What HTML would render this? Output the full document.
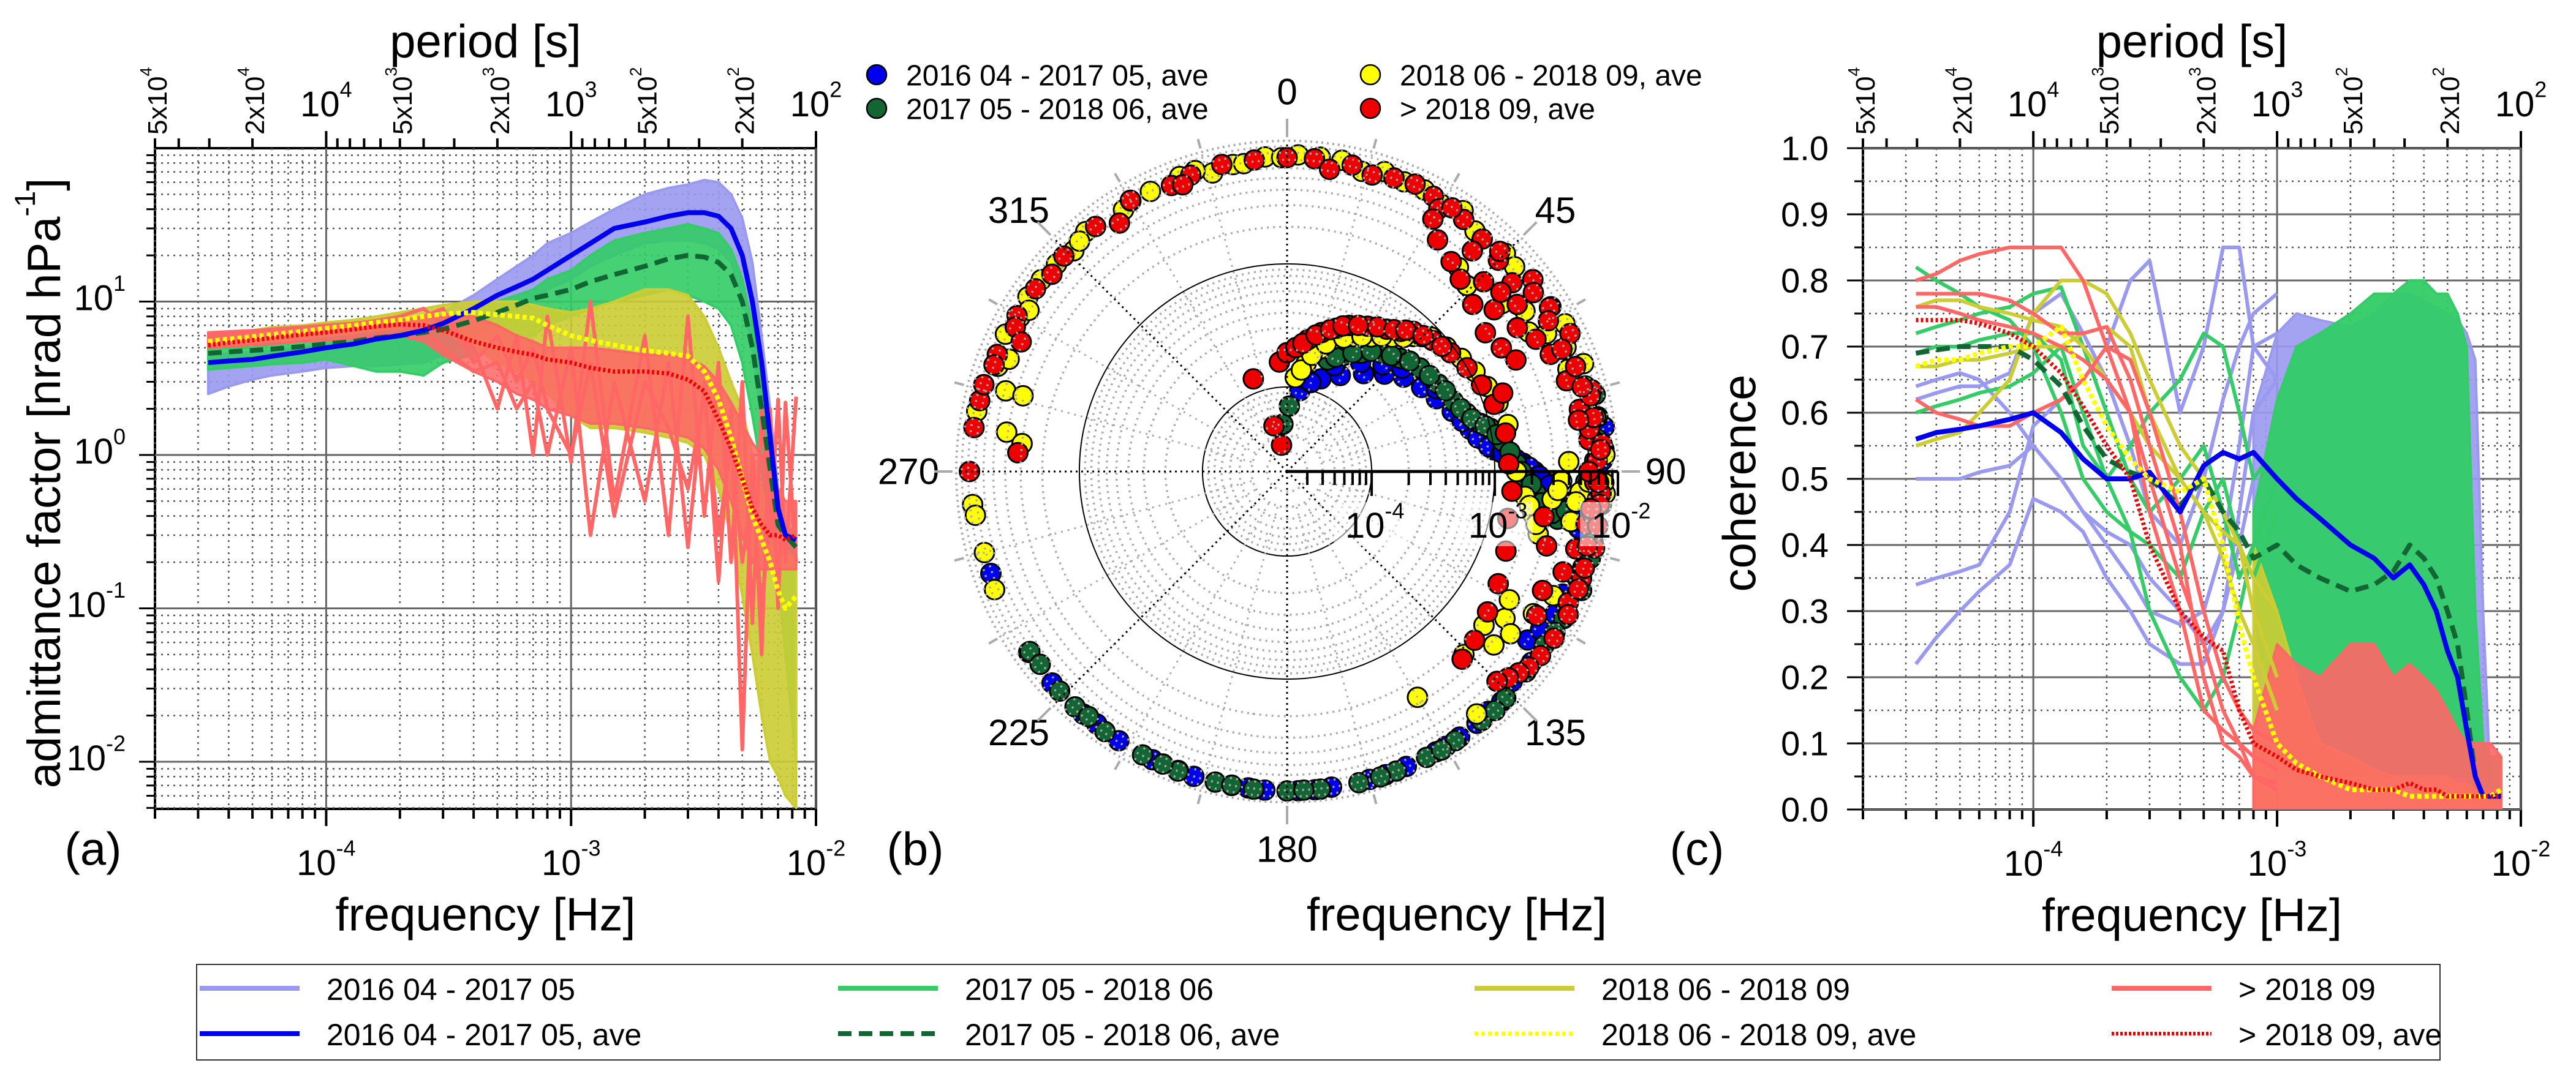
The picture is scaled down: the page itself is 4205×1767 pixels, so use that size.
<!DOCTYPE html>
<html><head><meta charset="utf-8"><title>Admittance, phase and coherence</title>
<style>
html,body{margin:0;padding:0;background:#fff;}
svg{display:block;font-family:"Liberation Sans",Arial,sans-serif;}
</style></head>
<body>
<svg id="chart" xmlns="http://www.w3.org/2000/svg" width="4205" height="1767" viewBox="0 0 4205 1767">
<defs>
<clipPath id="clipA"><rect x="253" y="242" width="1079" height="1079"/></clipPath>
<clipPath id="clipC"><rect x="3041" y="242" width="1074" height="1080"/></clipPath>
</defs>
</svg>
<script>
// ---------- data: shared frequency grid [Hz] ----------
const F = [3.3e-5,4e-5,5e-5,6e-5,8e-5,1e-4,1.3e-4,1.6e-4,2e-4,2.5e-4,3e-4,4e-4,5e-4,6e-4,7e-4,8e-4,1e-3,1.2e-3,1.5e-3,2e-3,2.5e-3,3e-3,3.5e-3,4e-3,4.5e-3,5e-3,5.5e-3,6e-3,6.5e-3,7e-3,7.5e-3,8.3e-3];
// ---------- panel (a): admittance factor [nrad/hPa] ----------
const aBlueAve   = [4.0,4.1,4.2,4.4,4.7,5.0,5.3,5.7,6.0,6.5,7.2,9,11,12.5,14,16,20,24,30,33,36,38,38,36,30,20,10,4,1.3,0.45,0.3,0.28];
const aGreenAve  = [4.6,4.7,4.8,4.9,5.1,5.3,5.5,5.8,6.0,6.3,6.6,7.5,8.5,9.5,10.5,11,12,13.5,15,17,19,20,19.5,18,15,10,5,2,0.8,0.35,0.3,0.25];
const aYellowAve = [5.5,5.7,5.9,6.1,6.4,6.7,7,7.3,7.6,8,8.3,8.5,8.2,8,7.8,7,6,5.6,5.2,4.8,4.6,4.4,3.5,2.3,1.3,0.7,0.4,0.28,0.2,0.13,0.1,0.12];
const aRedAve    = [5.2,5.4,5.6,5.8,6.1,6.3,6.6,6.9,7.1,7.0,6.5,5.5,5.0,4.7,4.5,4.2,4.0,3.7,3.5,3.5,3.4,3.1,2.6,1.7,1.1,0.7,0.45,0.35,0.3,0.3,0.28,0.3];
const aBlueHi  = [4.5,4.6,4.7,4.8,5.0,5.3,5.7,6.2,6.8,7.5,8.5,11,14,17,20,24,28,33,40,50,55,58,62,60,50,35,18,6,2,0.6,0.35,0.3];
const aBlueLo  = [2.5,2.8,3.1,3.3,3.5,3.7,3.8,3.8,3.9,4.0,4.5,6,8,9,10,12,14,17,20,24,25,25,24,22,18,11,5,1.8,0.6,0.3,0.25,0.22];
const aGreenHi = [5,5,5,5.3,5.6,6,6.3,6.6,7,7.5,8,9,10,11,12,14,16,20,25,28,30,32,30,28,22,14,7,3,1.2,0.5,0.35,0.3];
const aGreenLo = [3.6,3.7,3.8,3.9,4,4.2,3.8,3.5,3.5,3.3,4,4.5,5,5.5,6,7,8,9,10,11,12,11,10,9,7,4,1.8,0.8,0.3,0.15,0.05,0.01];
const aOliveHi = [6,6.2,6.5,6.8,7,7.3,7.6,8,8.5,9,9.5,10,10,10,9.5,9,8.5,9,10,12,12,11,8,5,3,2,1,0.6,0.4,0.3,0.25,0.2];
const aOliveLo = [5,5.1,5.3,5.5,5.7,6,6.2,6.5,6.7,7,6.5,5,4,3.5,3,2.5,1.8,1.5,1.5,1.4,1.3,1.2,1,0.6,0.3,0.12,0.05,0.02,0.01,0.008,0.006,0.005];
const aRedHi   = [6.3,6.4,6.5,6.6,6.8,7,7.2,7.4,7.6,7.8,8,8,7,6,5.5,5,5,5,4.8,4.5,4.5,4.2,3.8,3,2.2,1.6,1.2,1.0,0.8,0.6,0.5,0.5];
const aRedLo   = [5,5.1,5.2,5.3,5.5,5.6,5.7,6,6,5.5,4.5,3.5,3,2.5,2.3,2,1.8,1.6,1.6,1.5,1.4,1.3,1.1,0.8,0.5,0.3,0.2,0.18,0.18,0.18,0.18,0.18];
const aRedSpike1 = [6,6,6,6.2,6.5,6.8,7,7.3,7,6.5,5,3.5,4,2,3,1,5,0.3,3,0.5,4,0.25,3,0.15,2,0.012,1,0.05,2,0.1,2.2,0.2];
const aRedSpike2 = [6.2,6.3,6.4,6.6,6.8,7,7.2,7.5,8,9,7,5,2,6,1,8,0.9,10,0.5,6,0.3,8,0.4,4,0.2,3,0.08,2,0.3,2.3,0.2,2.4];
const aRedSpike3 = [5.6,5.7,5.8,6,6.2,6.4,6.6,6.8,7.2,8,9,4,6,3,5,2,1,4,0.4,3,1.5,0.6,2.5,0.3,1.2,0.2,0.6,0.1,0.4,0.2,0.3,0.3];
// ---------- panel (c): coherence ----------
const cBlueAve   = [.56,.57,.575,.58,.59,.6,.57,.53,.5,.5,.51,.45,.52,.54,.53,.54,.5,.47,.44,.40,.38,.35,.37,.34,.3,.24,.2,.12,.05,.02,.02,.02];
const cGreenAve  = [.69,.695,.7,.7,.7,.68,.64,.58,.53,.51,.5,.46,.5,.45,.42,.38,.4,.37,.35,.33,.34,.36,.4,.38,.35,.3,.25,.15,.05,.02,.02,.02];
const cYellowAve = [.67,.68,.68,.69,.7,.7,.73,.65,.58,.53,.5,.48,.5,.4,.28,.2,.1,.07,.05,.03,.03,.03,.02,.02,.02,.02,.02,.02,.02,.02,.02,.03];
const cRedAve    = [.74,.74,.74,.735,.72,.7,.66,.61,.55,.5,.4,.3,.26,.24,.15,.1,.08,.06,.05,.04,.03,.03,.04,.03,.03,.02,.02,.02,.02,.02,.02,.02];
const cBlueLines = [
 [.22,.26,.3,.33,.37,.47,.45,.42,.35,.3,.25,.22,.22,.3,.4,.5,.55],
 [.34,.35,.36,.37,.45,.58,.62,.65,.7,.8,.83,.6,.7,.85,.85,.7,.65],
 [.5,.5,.5,.51,.52,.55,.5,.45,.4,.35,.3,.28,.3,.4,.55,.7,.72],
 [.62,.63,.64,.64,.66,.75,.78,.72,.65,.55,.45,.4,.5,.62,.7,.75,.78],
 [.64,.65,.66,.65,.6,.55,.5,.45,.42,.4,.35,.3,.25,.3,.45,.6,.65]];
const cGreenLines = [
 [.82,.8,.78,.76,.74,.7,.6,.5,.45,.42,.3,.2,.15,.2,.3,.4,.5],
 [.69,.7,.7,.71,.72,.72,.68,.55,.5,.55,.6,.65,.72,.7,.6,.5,.55],
 [.6,.61,.62,.63,.64,.66,.7,.6,.5,.42,.4,.35,.45,.5,.4,.35,.45],
 [.72,.73,.74,.75,.76,.78,.79,.7,.6,.5,.45,.5,.55,.45,.35,.4,.5]];
const cOliveLines = [
 [.55,.56,.57,.6,.65,.75,.8,.8,.78,.72,.65,.55,.5,.45,.4,.35,.3],
 [.76,.77,.77,.76,.75,.74,.73,.7,.65,.6,.55,.5,.45,.42,.4,.3,.2],
 [.67,.67,.68,.68,.69,.7,.7,.72,.73,.7,.6,.5,.45,.38,.3,.25,.15]];
const cRedLines = [
 [.8,.81,.83,.84,.85,.85,.85,.8,.7,.6,.45,.3,.15,.12,.1,.05,.03],
 [.78,.78,.78,.78,.77,.75,.72,.72,.73,.65,.55,.4,.2,.1,.08,.05,.04],
 [.62,.6,.59,.58,.58,.6,.62,.65,.7,.68,.6,.45,.3,.2,.15,.12,.1],
 [.76,.76,.75,.74,.73,.72,.7,.68,.65,.6,.5,.35,.25,.15,.1,.08,.06]];
// high-frequency envelopes (frequencies index 15..31)
const cGreenHi = [.45,.62,.7,.72,.75,.78,.78,.8,.8,.78,.78,.75,.7,.3,.1,.08,.08];
const cGreenLo = [.3,.1,.05,.05,.05,.05,.05,.05,.05,.05,.05,.05,.05,.02,.01,.01,.01];
const cBlueHi  = [.6,.72,.75,.74,.73,.75,.78,.78,.77,.76,.75,.74,.72,.68,.3,.04,.03];
const cBlueLo  = [.1,.05,.05,.04,.04,.04,.04,.04,.04,.04,.04,.03,.02,.01,0,0,0];
const cRedHi   = [.12,.25,.22,.2,.25,.25,.2,.22,.2,.18,.15,.12,.1,.1,.1,.1,.08];
const cRedLo   = [0,0,0,0,0,0,0,0,0,0,0,0,0,0,0,0,0];
const cOliveHi = [.4,.3,.2,.1,.08,.06,.05,.05,.05,.05,.05,.04,.04,.03,.03,.03,.03];
const cOliveLo = [0,0,0,0,0,0,0,0,0,0,0,0,0,0,0,0,0];
// ---------- panel (b): polar (frequency, phase in degrees) ----------
const pBlueF = [9.5e-5,1.3e-4,1.6e-4,2.1e-4,2.7e-4,3.4e-4,4.0e-4,4.6e-4,5.5e-4,6.9e-4,8.5e-4,1.0e-3,1.3e-3,1.7e-3,2.1e-3,2.5e-3,3.0e-3,3.5e-3,4.2e-3,5.0e-3,5.5e-3,6.0e-3,6.4e-3,7.0e-3,8.2e-3,7.5e-3,6.8e-3,6.5e-3,5.8e-3,5.0e-3,6.5e-3,7.2e-3,7.5e-3,7.7e-3,7.8e-3,7.9e-3,8e-3,8e-3,8.1e-3,8.1e-3,8e-3,8e-3,7.9e-3,7.8e-3,7.7e-3,7.6e-3,7.5e-3,7.2e-3,
  1.15e-4,1.8e-4,2.4e-4,3.0e-4,3.7e-4,5.0e-4,6.2e-4,7.7e-4,9.2e-4,1.15e-3,1.5e-3,1.9e-3,2.3e-3,2.8e-3,3.2e-3,3.8e-3,4.6e-3,5.3e-3,6.2e-3,7.8e-3,7.3e-3,6.9e-3,6.0e-3,5.5e-3,6.8e-3,7.4e-3,7.8e-3,8.0e-3,8.1e-3,8.0e-3,7.9e-3,7.6e-3];
const pBlueP = [9,20,29,38,45,51,58,64,70,77,81,84,86,88,90,92,95,98,96,100,98,102,104,95,82,88,90,110,114,125,133,140,143,147,152,158,165,172,178,184,190,197,205,212,220,228,235,251,
  15,24,34,42,48,61,74,80,83,85,87,89,91,93,96,99,97,101,99,86,92,108,118,122,128,137,150,162,175,187,200,217];
const pGreenF = [5e-5,7e-5,1.9e-4,2.3e-4,2.8e-4,3.5e-4,4.1e-4,4.8e-4,5.4e-4,6e-4,7e-4,8.5e-4,1e-3,1.2e-3,1.5e-3,1.8e-3,2.2e-3,2.8e-3,3.5e-3,4.5e-3,5.5e-3,6.5e-3,7.5e-3,7.8e-3,7e-3,7.5e-3,7.8e-3,7.2e-3,6.8e-3,7e-3,7.4e-3,7.6e-3,7.8e-3,7.9e-3,8e-3,8.1e-3,8.1e-3,8.1e-3,8.1e-3,8e-3,8e-3,7.9e-3,7.8e-3,7.7e-3,7.6e-3,7.3e-3,
  2.1e-4,2.6e-4,3.2e-4,3.8e-4,4.5e-4,5.1e-4,5.7e-4,6.5e-4,7.5e-4,9.2e-4,1.1e-3,1.35e-3,1.65e-3,2e-3,2.5e-3,3.1e-3,4e-3,5e-3,6e-3,7e-3,7.6e-3,7.3e-3,6.6e-3,6.2e-3,7.1e-3,7.7e-3,7.95e-3,8.1e-3,8.05e-3,7.95e-3,7.85e-3,7.5e-3,7.2e-3];
const pGreenP = [355,2,20,26,32,39,45,52,60,67,72,76,78,82,88,92,95,98,100,96,92,88,80,76,100,106,112,118,124,130,136,142,148,154,160,167,174,180,186,193,200,207,215,222,226,235,
  23,29,35,42,48,56,63,70,74,77,80,85,90,93,97,99,98,94,90,84,96,103,110,115,121,139,151,163,177,190,203,219,232];
const pYellowF = [1.2e-4,1.6e-4,2.2e-4,2.8e-4,3.4e-4,4e-4,5e-4,6.5e-4,8.2e-4,1e-3,1.2e-3,1.4e-3,1.5e-3,1.8e-3,2.2e-3,2.6e-3,3e-3,3.5e-3,4e-3,4.5e-3,5e-3,6e-3,7e-3,8e-3,2.4e-3,2.2e-3,2.8e-3,3.2e-3,3.6e-3,4.2e-3,5e-3,2.7e-3,6.5e-3,2.6e-3,3e-3,3.4e-3,3.8e-3,4.4e-3,5e-3,5.5e-3,6.2e-3,6.8e-3,7.4e-3,7e-3,6.6e-3,6.2e-3,6.6e-3,7.2e-3,7.5e-3,7.6e-3,7.7e-3,7.5e-3,7e-3,6.5e-3,7.3e-3,7e-3,6.6e-3,7.2e-3,6.8e-3,6.4e-3,7.1e-3,6.6e-3,7.2e-3,6.5e-3,7.6e-3,7.8e-3,7.6e-3,7.4e-3,7.2e-3,7.5e-3,
  1.4e-4,1.9e-4,2.5e-4,3.1e-4,3.7e-4,4.5e-4,5.7e-4,7.3e-4,9e-4,1.1e-3,1.3e-3,2e-3,2.4e-3,3.3e-3,4.7e-3,5.8e-3,6.4e-3,7.2e-3,7.5e-3,6.9e-3,6.3e-3,7.4e-3,7.1e-3,6.7e-3,7.6e-3,7.3e-3,6.9e-3,7.4e-3,7.1e-3,6.8e-3,7.0e-3,6.1e-3,5.6e-3,4.9e-3,4.1e-3,3.5e-3,3.0e-3,2.5e-3,7.7e-3,7.9e-3,6.3e-3];
const pYellowP = [5,10,15,19,26,32,38,43,47,57,67,78,90,96,100,104,96,92,88,100,94,90,86,94,136,128,124,130,126,120,115,150,142,44,40,52,60,56,62,70,66,74,62,52,45,38,30,26,18,10,2,356,350,346,340,334,328,320,312,316,304,300,296,290,281,270,264,262,255,248,
  8,12,17,23,29,35,41,45,52,62,72,98,102,94,96,92,84,80,70,58,48,34,22,14,6,359,352,343,330,318,308,302,292,286,278,286,276,120,92,87,78];
const pRedF = [3.4e-5,5e-5,1.3e-4,1.6e-4,1.9e-4,2.1e-4,2.5e-4,3e-4,3.5e-4,4e-4,4.6e-4,5.3e-4,6e-4,7e-4,8e-4,9e-4,1e-3,1.1e-3,1.2e-3,1.3e-3,1.3e-3,1.4e-3,1.4e-3,1.6e-3,1.8e-3,2e-3,2.3e-3,2.5e-3,1.5e-3,1.9e-3,2.2e-3,2.6e-3,3e-3,3.6e-3,2.8e-3,3.3e-3,4e-3,4.5e-3,5e-3,5.5e-3,6e-3,6.5e-3,6e-3,5.5e-3,5e-3,4e-3,3.2e-3,2.7e-3,5e-3,5.5e-3,6e-3,6.5e-3,7e-3,7.1e-3,7.2e-3,7.3e-3,7.3e-3,7.2e-3,7.3e-3,7e-3,6.6e-3,7.2e-3,6.9e-3,6.8e-3,6.9e-3,7e-3,6.5e-3,7.1e-3,7.5e-3,3.2e-3,7.6e-3,5.2e-3,6e-3,4.5e-3,4.8e-3,7.5e-3,7.6e-3,7.2e-3,6.8e-3,4.5e-3,7e-3,
  6.2e-3,6.6e-3,7.4e-3,6.9e-3,6.3e-3,7.0e-3,6.7e-3,7.4e-3,6.4e-3,7.1e-3,6.2e-3,6.8e-3,7.4e-3,5.8e-3,6.1e-3,5.7e-3,6.4e-3,6.9e-3,7.3e-3,7.0e-3,6.6e-3,7.7e-3,7.5e-3,7.3e-3,6.2e-3,5.6e-3,6.4e-3,7.0e-3,7.8e-3,7.5e-3,
  2.3e-4,2.8e-4,3.3e-4,3.8e-4,4.3e-4,5e-4,5.7e-4,6.5e-4,7.5e-4,8.5e-4,2.1e-3,2.4e-3,3.4e-3,3.8e-3,4.2e-3,5.2e-3,5.8e-3,6.3e-3,6.7e-3,7.1e-3,7.3e-3,7.5e-3,7.4e-3,7.2e-3,6.9e-3,6.4e-3,5.9e-3,5.3e-3];
const pRedP = [348,344,340,356,0,4,9,14,19,23,29,35,39,42,48,54,60,66,72,80,88,95,102,110,118,125,132,137,70,55,48,42,38,33,52,58,62,66,72,78,84,92,100,105,110,115,106,100,50,45,40,35,28,20,12,5,0,354,348,342,338,330,322,314,306,300,298,292,283,274,278,296,30,40,30,75,85,110,115,120,95,
  8,16,24,32,44,52,58,64,70,76,82,88,94,60,54,66,74,80,86,92,98,104,100,96,340,326,310,290,270,286,
  7,12,17,21,26,32,37,40,45,51,60,64,46,50,54,80,90,97,104,108,112,117,122,126,129,131,133,135];
// ---------- tick label data ----------
const periodLabels = [[5,4],[2,4],[1,4],[5,3],[2,3],[1,3],[5,2],[2,2],[1,2]];
const freqDecades = [-4,-3,-2];
const admitDecades = [1,0,-1,-2];
const cohTicks = [0,0.1,0.2,0.3,0.4,0.5,0.6,0.7,0.8,0.9,1.0];
const polarAngles = [0,45,90,135,180,225,270,315];
const polarDecades = [-4,-3,-2];

// ---------- helpers ----------
const NS='http://www.w3.org/2000/svg';
const svg=document.getElementById('chart');
function mk(tag, attrs, name, parent){
  const el=document.createElementNS(NS,tag);
  for(const k in attrs) el.setAttribute(k, attrs[k]);
  
  
  (parent||svg).appendChild(el);
  return el;
}
function grp(name, attrs){ return mk('g', attrs||{}, name); }
function txt(x,y,s,size,anchor,name,parent,rot){
  const a={x:x,y:y,'font-size':size,'text-anchor':anchor||'middle','dominant-baseline':'central',fill:'#000'};
  if(rot) a.transform='rotate('+rot+' '+x+' '+y+')';
  const t=mk('text',a,name,parent); t.textContent=s; return t;
}
function supTxt(x,y,base,sup,size,anchor,name,parent,rot,tail){
  const a={x:x,y:y,'font-size':size,'text-anchor':anchor||'middle','dominant-baseline':'central',fill:'#000'};
  if(rot) a.transform='rotate('+rot+' '+x+' '+y+')';
  const t=mk('text',a,name,parent);
  const t1=document.createElementNS(NS,'tspan'); t1.textContent=base; t.appendChild(t1);
  const t2=document.createElementNS(NS,'tspan'); t2.textContent=sup;
  t2.setAttribute('font-size', Math.round(size*0.62)); t2.setAttribute('dy', -size*0.42); t.appendChild(t2);
  if(tail){ const t3=document.createElementNS(NS,'tspan'); t3.textContent=tail; t3.setAttribute('dy', size*0.42); t.appendChild(t3); }
  return t;
}
const LF0=Math.log10(2e-5), LF1=-2;
function xOf(f,P){ return P.x0+(Math.log10(f)-LF0)/(LF1-LF0)*(P.x1-P.x0); }
const PA={x0:253,x1:1332,y0:242,y1:1321};
const PC={x0:3041,x1:4115,y0:242,y1:1322};
function yA(v){ return 242+(2-Math.log10(v))*250.5; }
function yC(v){ return 1322-v*1080; }
function pathD(xs,ys){ return xs.map((x,i)=>(i?'L':'M')+x.toFixed(1)+' '+ys[i].toFixed(1)).join(''); }
function lineSeries(P,yf,fr,vals,style,name,parent){
  const xs=fr.map(f=>xOf(f,P)), ys=vals.map(yf);
  return mk('path',Object.assign({d:pathD(xs,ys),fill:'none','stroke-linejoin':'round'},style),name,parent);
}
function band(P,yf,fr,hi,lo,color,name,parent,op){
  const xs=fr.map(f=>xOf(f,P));
  let d=pathD(xs,hi.map(yf));
  for(let i=fr.length-1;i>=0;i--) d+='L'+xs[i].toFixed(1)+' '+yf(lo[i]).toFixed(1);
  d+='Z';
  return mk('path',{d:d,fill:color,'fill-opacity':op||0.9,stroke:color,'stroke-width':4,'stroke-linejoin':'round'},name,parent);
}
const COL={lblue:'#9999f0',blue:'#0000ee',green:'#33cc66',dgreen:'#116633',olive:'#cccc33',yellow:'#ffff00',lred:'#ff6666',red:'#ee0000'};
const freqMinor=[]; for(let d=-5; d<=-3; d++) for(let k=1;k<=9;k++){ const f=k*Math.pow(10,d); if(f>=2e-5-1e-12 && f<=1e-2) freqMinor.push([f,k]); } freqMinor.push([1e-2,1]);

function freqAxes(P,gname){
  const g=grp(gname);
  freqMinor.forEach(([f,k])=>{
    const x=xOf(f,P);
    if(k===1) mk('line',{x1:x,y1:P.y0,x2:x,y2:P.y1,stroke:'#666','stroke-width':3},'major-grid-x',g);
    else mk('line',{x1:x,y1:P.y0,x2:x,y2:P.y1,stroke:'#555','stroke-width':2.5,'stroke-dasharray':'3 7'},'minor-grid-x',g);
    mk('line',{x1:x,y1:P.y1,x2:x,y2:P.y1+(k===1?28:16),stroke:'#000','stroke-width':4},'x-tick',g);
  });
  freqDecades.forEach(d=>{ supTxt(xOf(Math.pow(10,d),P),P.y1+88,'10',String(d),58,'middle','x-tick-label',g); });
  for(let n=2;n<=4;n++) for(let k=1;k<=9;k++){ const T=k*Math.pow(10,n); if(T>5e4) continue; const x=xOf(1/T,P);
    mk('line',{x1:x,y1:P.y0,x2:x,y2:P.y0-(k===1?28:16),stroke:'#000','stroke-width':4},'top-tick',g); }
  { const x=xOf(2e-5,P); mk('line',{x1:x,y1:P.y0,x2:x,y2:P.y0-16,stroke:'#000','stroke-width':4},'top-tick',g); }
  periodLabels.forEach(([k,n])=>{ const x=xOf(1/(k*Math.pow(10,n)),P);
    if(k===1) supTxt(x,P.y0-72,'10',String(n),58,'middle','period-tick-label',g);
    else supTxt(x+4,P.y0-22,k+'x10',String(n),44,'start','period-tick-label',g,-90);
  });
  txt((P.x0+P.x1)/2,P.y1+173,'frequency [Hz]',76,'middle','x-axis-title',g);
  txt((P.x0+P.x1)/2,68,'period [s]',76,'middle','top-axis-title',g);
}

// ================= PANEL A =================
const gA=grp('panel-a-admittance');
freqAxes(PA,'panel-a-axes');
const gAy=grp('panel-a-y-axis');
for(let d=-3; d<=1; d++) for(let k=1;k<=9;k++){ const v=k*Math.pow(10,d); if(v<5e-3||v>100) continue; const y=yA(v);
  if(k===1) mk('line',{x1:PA.x0,y1:y,x2:PA.x1,y2:y,stroke:'#666','stroke-width':3},'major-grid-y',gAy);
  else mk('line',{x1:PA.x0,y1:y,x2:PA.x1,y2:y,stroke:'#555','stroke-width':2.5,'stroke-dasharray':'3 7'},'minor-grid-y',gAy);
  mk('line',{x1:PA.x0,y1:y,x2:PA.x0-(k===1?26:14),y2:y,stroke:'#000','stroke-width':3},'y-tick',gAy);
}
admitDecades.forEach(d=>supTxt(205,yA(Math.pow(10,d))-6,'10',String(d),58,'end','y-tick-label',gAy));
supTxt(72,789,'admittance factor [nrad hPa','-1',76,'middle','y-axis-title',gAy,-90,']');
txt(152,1387,'(a)',76,'middle','panel-label-a',gA);
const gAd=mk('g',{'clip-path':'url(#clipA)'},'panel-a-series');
band(PA,yA,F,aBlueHi,aBlueLo,COL.lblue,'band-2016-2017',gAd,0.9);
band(PA,yA,F,aGreenHi,aGreenLo,COL.green,'band-2017-2018',gAd,0.9);
band(PA,yA,F,aOliveHi,aOliveLo,COL.olive,'band-2018-06-09',gAd,0.9);
band(PA,yA,F,aRedHi,aRedLo,COL.lred,'band-after-2018-09',gAd,0.85);
lineSeries(PA,yA,F,aRedSpike1,{stroke:COL.lred,'stroke-width':6},'line-after-2018-09',gAd);
lineSeries(PA,yA,F,aRedSpike2,{stroke:COL.lred,'stroke-width':6},'line-after-2018-09',gAd);
lineSeries(PA,yA,F,aRedSpike3,{stroke:COL.lred,'stroke-width':6},'line-after-2018-09',gAd);
lineSeries(PA,yA,F,aGreenAve,{stroke:COL.dgreen,'stroke-width':8,'stroke-dasharray':'22 12'},'ave-2017-2018',gAd);
lineSeries(PA,yA,F,aBlueAve,{stroke:COL.blue,'stroke-width':8},'ave-2016-2017',gAd);
lineSeries(PA,yA,F,aYellowAve,{stroke:COL.yellow,'stroke-width':8,'stroke-dasharray':'7 5'},'ave-2018-06-09',gAd);
lineSeries(PA,yA,F,aRedAve,{stroke:COL.red,'stroke-width':7,'stroke-dasharray':'4 4'},'ave-after-2018-09',gAd);
mk('rect',{x:PA.x0,y:PA.y0,width:PA.x1-PA.x0,height:PA.y1-PA.y0,fill:'none',stroke:'#000','stroke-width':4},'panel-a-frame',gA);

// ================= PANEL C =================
const gC=grp('panel-c-coherence');
freqAxes(PC,'panel-c-axes');
const gCy=grp('panel-c-y-axis');
for(let i=0;i<=20;i++){ const v=i*0.05; const y=yC(v); const major=(i%2===0);
  if(major) mk('line',{x1:PC.x0,y1:y,x2:PC.x1,y2:y,stroke:'#666','stroke-width':3},'major-grid-y',gCy);
  else mk('line',{x1:PC.x0,y1:y,x2:PC.x1,y2:y,stroke:'#555','stroke-width':2.5,'stroke-dasharray':'3 7'},'minor-grid-y',gCy);
  mk('line',{x1:PC.x0,y1:y,x2:PC.x0-(major?26:14),y2:y,stroke:'#000','stroke-width':3},'y-tick',gCy);
}
cohTicks.forEach(v=>txt(2985,yC(v),v.toFixed(1),56,'end','y-tick-label',gCy));
txt(2840,789,'coherence',76,'middle','y-axis-title',gCy,-90);
txt(2770,1387,'(c)',76,'middle','panel-label-c',gC);
const gCd=mk('g',{'clip-path':'url(#clipC)'},'panel-c-series');
const Flow=F.slice(0,17), Fhigh=F.slice(15);
band(PC,yC,Fhigh,cBlueHi,cBlueLo,COL.lblue,'band-2016-2017',gCd,0.9);
band(PC,yC,Fhigh,cGreenHi,cGreenLo,COL.green,'band-2017-2018',gCd,0.95);
band(PC,yC,Fhigh,cOliveHi,cOliveLo,COL.olive,'band-2018-06-09',gCd,0.9);
band(PC,yC,Fhigh,cRedHi,cRedLo,COL.lred,'band-after-2018-09',gCd,0.9);
cBlueLines.forEach(v=>lineSeries(PC,yC,Flow,v,{stroke:COL.lblue,'stroke-width':6},'line-2016-2017',gCd));
cGreenLines.forEach(v=>lineSeries(PC,yC,Flow,v,{stroke:COL.green,'stroke-width':6},'line-2017-2018',gCd));
cOliveLines.forEach(v=>lineSeries(PC,yC,Flow,v,{stroke:COL.olive,'stroke-width':6},'line-2018-06-09',gCd));
cRedLines.forEach(v=>lineSeries(PC,yC,Flow,v,{stroke:COL.lred,'stroke-width':6},'line-after-2018-09',gCd));
lineSeries(PC,yC,F,cGreenAve,{stroke:COL.dgreen,'stroke-width':8,'stroke-dasharray':'22 12'},'ave-2017-2018',gCd);
lineSeries(PC,yC,F,cBlueAve,{stroke:COL.blue,'stroke-width':8},'ave-2016-2017',gCd);
lineSeries(PC,yC,F,cYellowAve,{stroke:COL.yellow,'stroke-width':8,'stroke-dasharray':'7 5'},'ave-2018-06-09',gCd);
lineSeries(PC,yC,F,cRedAve,{stroke:COL.red,'stroke-width':7,'stroke-dasharray':'4 4'},'ave-after-2018-09',gCd);
mk('rect',{x:PC.x0,y:PC.y0,width:PC.x1-PC.x0,height:PC.y1-PC.y0,fill:'none',stroke:'#000','stroke-width':4},'panel-c-frame',gC);

// ================= PANEL B (polar) =================
const CX=2101, CY=770, RPD=201, LC=-4.687;
function rOf(f){ return Math.max(0,(Math.log10(f)-LC)*RPD); }
function px(f,a){ return CX+rOf(f)*Math.sin(a*Math.PI/180); }
function py(f,a){ return CY-rOf(f)*Math.cos(a*Math.PI/180); }
const gB=grp('panel-b-polar');
const gBm=grp('panel-b-markers');
function markers(Fs,Ps,color,name){
  const n=Math.min(Fs.length,Ps.length);
  for(let i=0;i<n;i++) mk('circle',{cx:px(Fs[i],Ps[i]).toFixed(1),cy:py(Fs[i],Ps[i]).toFixed(1),r:16,fill:color,stroke:'#000','stroke-width':3},name,gBm);
}
markers(pBlueF,pBlueP,'#0000ee','marker-2016-2017');
markers(pGreenF,pGreenP,'#116633','marker-2017-2018');
markers(pYellowF,pYellowP,'#ffff00','marker-2018-06-09');
markers(pRedF,pRedP,'#ee0000','marker-after-2018-09');
const gBg=grp('panel-b-grid');
for(let d=-5; d<=-3; d++) for(let k=1;k<=9;k++){ const f=k*Math.pow(10,d); const r=rOf(f); if(r<=5) continue;
  if(k===1 && (d===-4||d===-3)) mk('circle',{cx:CX,cy:CY,r:r,fill:'none',stroke:'#000','stroke-width':2},'decade-circle',gBg);
  else mk('circle',{cx:CX,cy:CY,r:r,fill:'none',stroke:'#aaa','stroke-width':3.5,'stroke-dasharray':'3 7'},'minor-circle',gBg);
}
mk('circle',{cx:CX,cy:CY,r:rOf(1e-2),fill:'none',stroke:'#aaa','stroke-width':4,'stroke-dasharray':'3 6'},'outer-circle',gBg);
const R=rOf(1e-2);
for(let a=0;a<360;a+=15){ const s=Math.sin(a*Math.PI/180), c=Math.cos(a*Math.PI/180);
  if(a%45!==0) mk('line',{x1:CX+60*s,y1:CY-60*c,x2:CX+R*s,y2:CY-R*c,stroke:'#aaa','stroke-width':3,'stroke-dasharray':'3 8'},'spoke',gBg);
  else mk('line',{x1:CX,y1:CY,x2:CX+R*s,y2:CY-R*c,stroke:'#000','stroke-width':3,'stroke-dasharray':'3 6'},'spoke-major',gBg);
  mk('line',{x1:CX+(R+6)*s,y1:CY-(R+6)*c,x2:CX+(R+(a%45===0?36:22))*s,y2:CY-(R+(a%45===0?36:22))*c,stroke:'#aaa','stroke-width':4},'angle-tick',gBg);
}
mk('line',{x1:CX,y1:CY,x2:CX+R,y2:CY,stroke:'#000','stroke-width':5},'radial-axis',gBg);
for(let d=-5; d<=-3; d++) for(let k=1;k<=9;k++){ const f=k*Math.pow(10,d); const r=rOf(f); if(r<=3) continue;
  mk('line',{x1:CX+r,y1:CY,x2:CX+r,y2:CY+(k===1?40:22),stroke:'#000','stroke-width':4},'radial-tick',gBg); }
mk('line',{x1:CX+R,y1:CY,x2:CX+R,y2:CY+40,stroke:'#000','stroke-width':4},'radial-tick',gBg);
polarDecades.forEach(d=>{ const x=CX+rOf(Math.pow(10,d));
  mk('rect',{x:x-62,y:CY+50,width:124,height:72,fill:'#fff','fill-opacity':0.55,stroke:'none'},'label-bg',gBg);
  supTxt(x+5,CY+88,'10',String(d),58,'middle','radial-tick-label',gBg); });
polarAngles.forEach(a=>{ const rr=(a%90===0)?R+78:R+60; const s=Math.sin(a*Math.PI/180), c=Math.cos(a*Math.PI/180);
  let x=CX+rr*s, y=CY-rr*c;
  if(a%90!==0){ x=CX+R*0.811*Math.sign(s); y=CY-R*0.79*Math.sign(c); }
  if(a===0) y=150; if(a===180) y=1387;
  txt(x,y,String(a),60,'middle','angle-label',gB); });
txt(1494,1387,'(b)',76,'middle','panel-label-b',gB);
txt(2378,1494,'frequency [Hz]',76,'middle','radial-axis-title',gB);
const gBl=grp('panel-b-legend');
[[1431,122,'#0000ee','2016 04 - 2017 05, ave'],[1431,177,'#116633','2017 05 - 2018 06, ave'],[2237,122,'#ffff00','2018 06 - 2018 09, ave'],[2237,177,'#ee0000','> 2018 09, ave']].forEach(e=>{
  mk('circle',{cx:e[0],cy:e[1],r:16,fill:e[2],stroke:'#000','stroke-width':2.5},'legend-marker',gBl);
  txt(e[0]+48,e[1]+2,e[3],48,'start','legend-label',gBl);
});

// ================= MAIN LEGEND =================
const gL=grp('main-legend');
mk('rect',{x:321,y:1575,width:3662,height:156,fill:'#fff',stroke:'#333','stroke-width':2},'legend-box',gL);
const legItems=[
 [326,1614,{stroke:COL.lblue,'stroke-width':8},'2016 04 - 2017 05'],
 [326,1688,{stroke:COL.blue,'stroke-width':8},'2016 04 - 2017 05, ave'],
 [1368,1614,{stroke:COL.green,'stroke-width':8},'2017 05 - 2018 06'],
 [1368,1688,{stroke:COL.dgreen,'stroke-width':8,'stroke-dasharray':'22 12'},'2017 05 - 2018 06, ave'],
 [2407,1614,{stroke:COL.olive,'stroke-width':8},'2018 06 - 2018 09'],
 [2407,1688,{stroke:COL.yellow,'stroke-width':7,'stroke-dasharray':'6 5'},'2018 06 - 2018 09, ave'],
 [3447,1614,{stroke:COL.lred,'stroke-width':8},'> 2018 09'],
 [3447,1688,{stroke:COL.red,'stroke-width':6,'stroke-dasharray':'4 3'},'> 2018 09, ave']];
legItems.forEach(it=>{
  mk('line',Object.assign({x1:it[0],y1:it[1],x2:it[0]+163,y2:it[1],'stroke-linecap':'butt'},it[2]),'legend-line',gL);
  txt(it[0]+207,it[1]+2,it[3],50,'start','legend-label',gL);
});
</script>
</body></html>
